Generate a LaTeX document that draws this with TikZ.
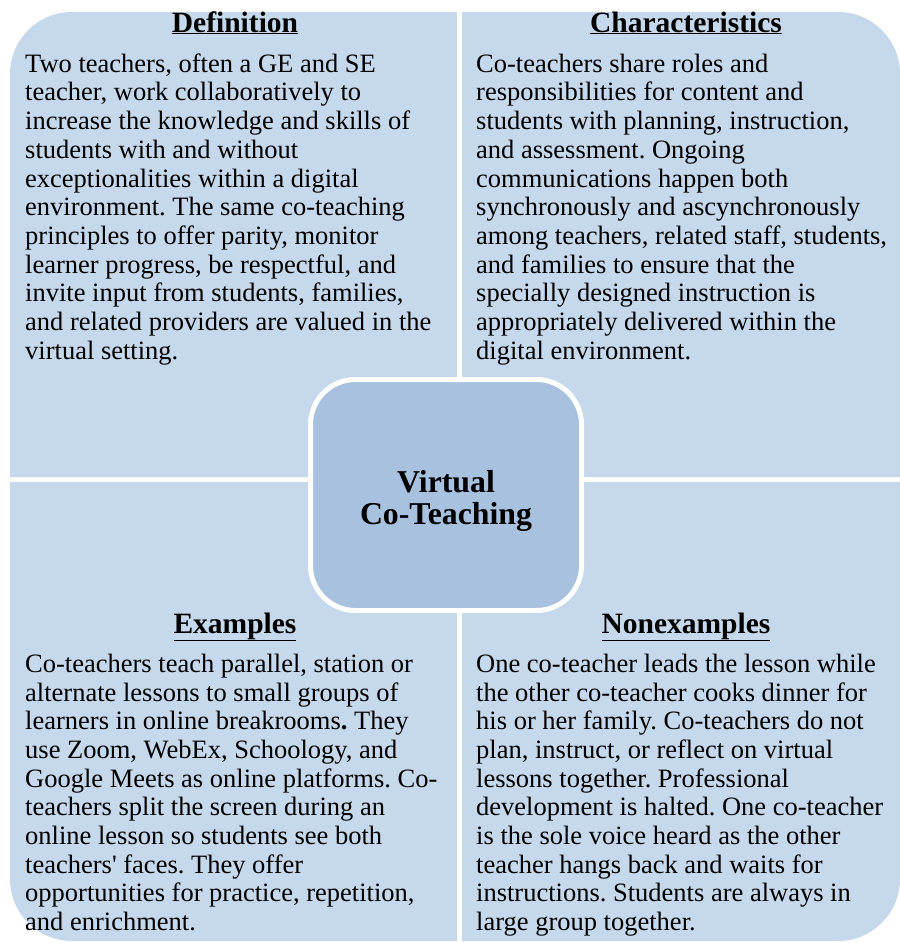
\documentclass[tikz,border=0pt]{standalone}
\usepackage{fontspec}
\setmainfont{Liberation Serif}
\usetikzlibrary{positioning}
\definecolor{quadblue}{RGB}{198,216,235}
\definecolor{hubblue}{RGB}{167,193,223}

\begin{document}
\frenchspacing
\begin{tikzpicture}[x=1pt,y=-1pt,
    quad/.style={fill=quadblue},
    head/.style={font=\bfseries\fontsize{29.5}{32}\selectfont,inner sep=0pt,anchor=base},
    body/.style={font=\fontsize{26.5}{28.7}\selectfont,align=flush left,inner sep=0pt,anchor=north west},
    hub/.style={draw=white,line width=5pt,fill=hubblue,rounded corners=45pt,
      minimum width=271pt,minimum height=231pt},
    hubtext/.style={align=center,inner sep=0pt,font=\bfseries\fontsize{31.8}{32}\selectfont}]

  \useasboundingbox (0,0) rectangle (900,943);

  % the four quarters, each rounded at its outer corner
  \fill[quad] (457,477) -- (10,477) -- (10,74) arc[start angle=180,end angle=270,radius=62] -- (457,12) -- cycle;
  \fill[quad] (462,477) -- (462,12) -- (838,12) arc[start angle=270,end angle=360,radius=62] -- (900,477) -- cycle;
  \fill[quad] (10,482) -- (457,482) -- (457,941) -- (72,941) arc[start angle=90,end angle=180,radius=62] -- cycle;
  \fill[quad] (462,482) -- (900,482) -- (900,879) arc[start angle=0,end angle=90,radius=62] -- (462,941) -- cycle;

  % headings
  \node[head] (def)  at (235,32)  {\underline{Definition}};
  \node[head] (char) at (686,32)  {\underline{Characteristics}};
  \node[head] (ex)   at (235,633) {\underline{Examples}};
  \node[head] (nonex) at (686,633) {\underline{Nonexamples}};

  % texts (top of the strut in the first line, baseline at 72 and 672)
  \node[body] (deftext) at (25,52) {\strut Two teachers, often a GE and SE\\
    teacher, work collaboratively to\\
    increase the knowledge and skills of\\
    students with and without\\
    exceptionalities within a digital\\
    environment. The same co-teaching\\
    principles to offer parity, monitor\\
    learner progress, be respectful, and\\
    invite input from students, families,\\
    and related providers are valued in the\\
    virtual setting.};
  \node[body] (chartext) at (476,52) {\strut Co-teachers share roles and\\
    responsibilities for content and\\
    students with planning, instruction,\\
    and assessment. Ongoing\\
    communications happen both\\
    synchronously and ascynchronously\\
    among teachers, related staff, students,\\
    and families to ensure that the\\
    specially designed instruction is\\
    appropriately delivered within the\\
    digital environment.};
  \node[body] (extext) at (25,652) {\strut Co-teachers teach parallel, station or\\
    alternate lessons to small groups of\\
    learners in online breakrooms\textbf{.} They\\
    use Zoom, WebEx, Schoology, and\\
    Google Meets as online platforms. Co-\\
    teachers split the screen during an\\
    online lesson so students see both\\
    teachers\textquotesingle\ faces. They offer\\
    opportunities for practice, repetition,\\
    and enrichment.};
  \node[body] (nonextext) at (476,652) {\strut One co-teacher leads the lesson while\\
    the other co-teacher cooks dinner for\\
    his or her family. Co-teachers do not\\
    plan, instruct, or reflect on virtual\\
    lessons together. Professional\\
    development is halted. One co-teacher\\
    is the sole voice heard as the other\\
    teacher hangs back and waits for\\
    instructions. Students are always in\\
    large group together.};

  % centre box
  \node[hub] (hub) at (446,495) {};
  \node[hubtext] (hubtext) at ([yshift=-6pt]hub.center) {Virtual\\Co-Teaching};
\end{tikzpicture}
\end{document}
